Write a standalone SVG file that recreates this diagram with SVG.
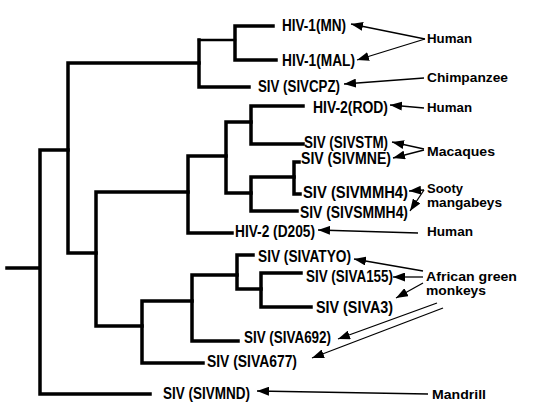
<svg xmlns="http://www.w3.org/2000/svg" width="536" height="419" viewBox="0 0 536 419">
<style>
.br{fill:none;stroke:#000;stroke-width:3.5;stroke-linecap:square}
.thin{stroke-width:2.4}
.ar{fill:none;stroke:#000;stroke-width:1.3;marker-end:url(#ah)}
.tl{font-family:"Liberation Sans Narrow","Liberation Sans",Arial,sans-serif;font-weight:bold;font-size:16px;fill:#000}
.hl{font-family:"Liberation Sans",Arial,sans-serif;font-weight:bold;font-size:12.5px;fill:#000}
</style>
<defs>
<marker id="ah" markerUnits="userSpaceOnUse" markerWidth="12" markerHeight="9" refX="12" refY="4.5" orient="auto">
<path d="M0,0 L12,4.5 L0,9 z" fill="#000"/>
</marker>
</defs>
<rect width="536" height="419" fill="#fff"/>
<g id="connectors">
<g id="tree">
<path class="br" d="M7,268 H40 M40,150 V394 M40,150 H68 M40,394 H150"/>
<path class="br" d="M68,63 V253 M68,63 H199 M68,253 H96"/>
<path class="br" d="M199,40 V87 M199,87 H249"/>
<path class="br thin" d="M199,40 H235"/>
<path class="br" d="M235,26 V60 M235,26 H273 M235,60 H276"/>
<path class="br" d="M96,192 V326 M96,192 H188 M96,326 H142"/>
<path class="br" d="M188,156 V233 M188,156 H226 M188,233 H232"/>
<path class="br" d="M226,122 V193 M226,122 H251 M226,193 H251"/>
<path class="br" d="M251,106 V144 M251,106 H303 M251,144 H303"/>
<path class="br" d="M251,177 V211 M251,177 H294 M251,211 H297"/>
<path class="br" d="M294,162 V194 M294,162 H299 M294,194 H300"/>
<path class="br" d="M142,301 V363 M142,301 H192 M142,363 H203"/>
<path class="br" d="M192,275 V341 M192,275 H237 M192,341 H238"/>
<path class="br" d="M237,255 V289 M237,255 H253 M237,289 H261"/>
<path class="br" d="M261,273 V307 M261,273 H301 M261,307 H311"/>
</g>
<g id="arrows">
<path class="ar" d="M425,39 L351,24"/>
<path class="ar" d="M425,39 L357,60"/>
<path class="ar" d="M424,78 L344,84"/>
<path class="ar" d="M424,108 L390,105"/>
<path class="ar" d="M424,149 L392,142"/>
<path class="ar" d="M424,150 L393,158"/>
<path class="ar" d="M424,190 L409,191"/>
<path class="ar" d="M424,190 L410,211"/>
<path class="ar" d="M418,233 L318,230"/>
<path class="ar" d="M423,271 L354,259"/>
<path class="ar" d="M423,277 L393,277"/>
<path class="ar" d="M423,283 L396,298"/>
<path class="ar" d="M437,303 L338,339"/>
<path class="ar" d="M443,308 L312,358"/>
<path class="ar" d="M428,394 L257,391"/>
</g>
</g>
<g id="n-mn"><text class="tl" x="282" y="31" textLength="64" lengthAdjust="spacingAndGlyphs">HIV-1(MN)</text></g>
<g id="n-mal"><text class="tl" x="282" y="66" textLength="73" lengthAdjust="spacingAndGlyphs">HIV-1(MAL)</text></g>
<g id="n-cpz"><text class="tl" x="258" y="92" textLength="82" lengthAdjust="spacingAndGlyphs">SIV (SIVCPZ)</text></g>
<g id="n-rod"><text class="tl" x="313" y="113" textLength="75" lengthAdjust="spacingAndGlyphs">HIV-2(ROD)</text></g>
<g id="n-stm"><text class="tl" x="304" y="148" textLength="84" lengthAdjust="spacingAndGlyphs">SIV (SIVSTM)</text></g>
<g id="n-mne"><text class="tl" x="301" y="164" textLength="90" lengthAdjust="spacingAndGlyphs">SIV (SIVMNE)</text></g>
<g id="n-mmh4"><text class="tl" x="303" y="198" textLength="105" lengthAdjust="spacingAndGlyphs">SIV (SIVMMH4)</text></g>
<g id="n-smmh4"><text class="tl" x="300" y="218" textLength="108" lengthAdjust="spacingAndGlyphs">SIV (SIVSMMH4)</text></g>
<g id="n-d205"><text class="tl" x="235" y="237" textLength="80" lengthAdjust="spacingAndGlyphs">HIV-2 (D205)</text></g>
<g id="n-atyo"><text class="tl" x="258" y="262" textLength="93" lengthAdjust="spacingAndGlyphs">SIV (SIVATYO)</text></g>
<g id="n-a155"><text class="tl" x="306" y="282" textLength="87" lengthAdjust="spacingAndGlyphs">SIV (SIVA155)</text></g>
<g id="n-a3"><text class="tl" x="316" y="313" textLength="77" lengthAdjust="spacingAndGlyphs">SIV (SIVA3)</text></g>
<g id="n-a692"><text class="tl" x="244" y="343" textLength="87" lengthAdjust="spacingAndGlyphs">SIV (SIVA692)</text></g>
<g id="n-a677"><text class="tl" x="207" y="367" textLength="90" lengthAdjust="spacingAndGlyphs">SIV (SIVA677)</text></g>
<g id="n-mnd"><text class="tl" x="163" y="399" textLength="87" lengthAdjust="spacingAndGlyphs">SIV (SIVMND)</text></g>
<g id="h-human1"><text class="hl" x="427" y="43" textLength="45" lengthAdjust="spacingAndGlyphs">Human</text></g>
<g id="h-chimp"><text class="hl" x="427" y="82" textLength="81" lengthAdjust="spacingAndGlyphs">Chimpanzee</text></g>
<g id="h-human2"><text class="hl" x="427" y="112" textLength="45" lengthAdjust="spacingAndGlyphs">Human</text></g>
<g id="h-macaques"><text class="hl" x="427" y="156" textLength="68" lengthAdjust="spacingAndGlyphs">Macaques</text></g>
<g id="h-sooty"><text class="hl" x="427" y="193" textLength="36" lengthAdjust="spacingAndGlyphs">Sooty</text><text class="hl" x="427" y="207" textLength="75" lengthAdjust="spacingAndGlyphs">mangabeys</text></g>
<g id="h-human3"><text class="hl" x="427" y="236" textLength="46" lengthAdjust="spacingAndGlyphs">Human</text></g>
<g id="h-agm"><text class="hl" x="426" y="281" textLength="91" lengthAdjust="spacingAndGlyphs">African green</text><text class="hl" x="426" y="295" textLength="60" lengthAdjust="spacingAndGlyphs">monkeys</text></g>
<g id="h-mandrill"><text class="hl" x="432" y="399" textLength="54" lengthAdjust="spacingAndGlyphs">Mandrill</text></g>
</svg>
